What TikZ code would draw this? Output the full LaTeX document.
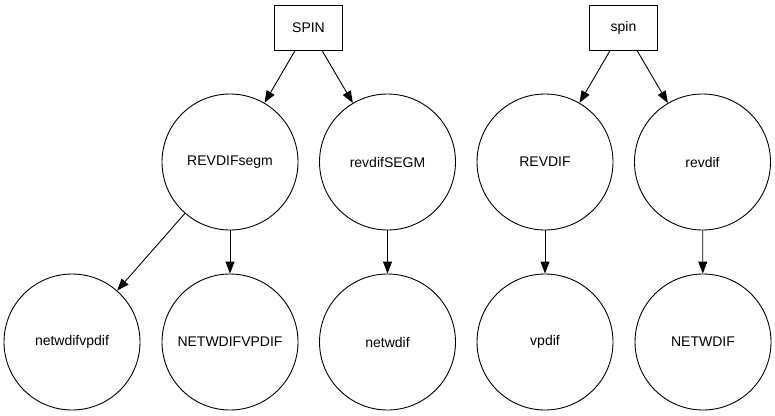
\documentclass[tikz,border=0pt]{standalone}
\usepackage{fontspec}
\setmainfont{Liberation Sans}
\usetikzlibrary{arrows.meta}

\tikzset{
	vert/.style={circle, draw, line width=0.9pt, minimum size=136pt, inner sep=0pt, font=\fontsize{14}{16}\selectfont},
	root/.style={rectangle, draw, line width=0.9pt, minimum width=68pt, minimum height=45pt, inner sep=0pt, font=\fontsize{14}{16}\selectfont},
	edge/.style={-{Triangle[length=12pt,width=9pt]}, line width=0.9pt}
}

\begin{document}
\begin{tikzpicture}[x=1pt, y=-1pt]
		\useasboundingbox (0,0) rectangle (775,415);
		
		\node (SPIN) at (308.5,27.5) [root] {SPIN};
		\node (spin) at (623.5,27.5) [root] {spin};
		
		\foreach \lbl/\x in {REVDIFsegm/230, revdifSEGM/387.5, REVDIF/545, revdif/702.5} {
			\node (\lbl) at (\x,162) [vert] {\lbl};
		}
		
		\foreach \lbl/\x in {netwdifvpdif/72, NETWDIFVPDIF/230, netwdif/387.5, vpdif/545, NETWDIF/703} {
			\node (\lbl) at (\x,342) [vert] {\lbl};
		}
		
		\draw[edge] (SPIN) -- (REVDIFsegm);
		\draw[edge] (SPIN) -- (revdifSEGM);
		\draw[edge] (spin) -- (REVDIF);
		\draw[edge] (spin) -- (revdif);
		\draw[edge] (REVDIFsegm) -- (netwdifvpdif);
		\draw[edge] (REVDIFsegm) -- (NETWDIFVPDIF);
		\draw[edge] (revdifSEGM) -- (netwdif);
		\draw[edge] (REVDIF) -- (vpdif);
		\draw[edge] (revdif) -- (NETWDIF);
		
	\end{tikzpicture}
\end{document}
